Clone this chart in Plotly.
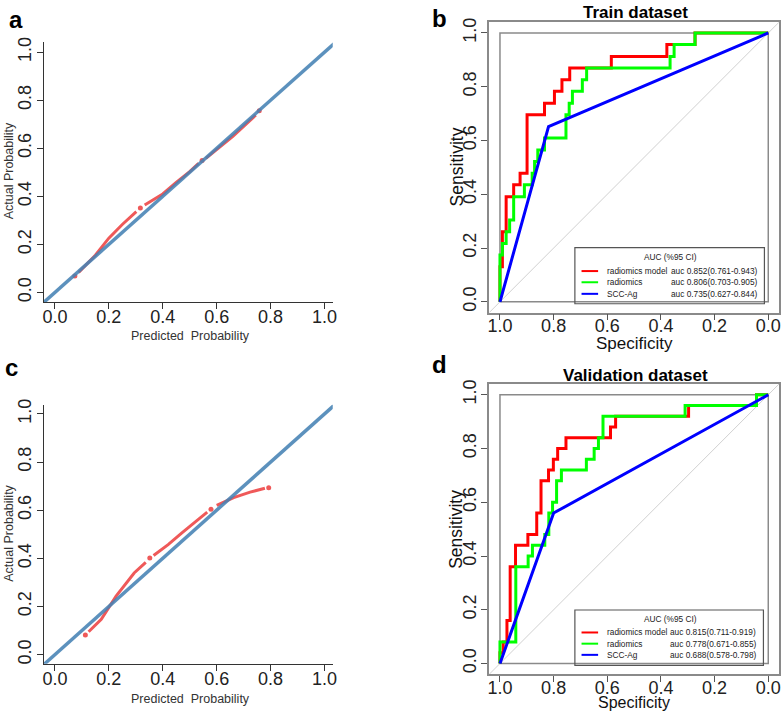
import plotly.graph_objects as go

# ---------------- data ----------------
# Panel a: calibration (train)
cal_a_pts_x = [0.074, 0.317, 0.546, 0.758]
cal_a_pts_y = [0.068, 0.352, 0.549, 0.756]
cal_a_line_x = [0.088, 0.15, 0.20, 0.25, 0.302, None, 0.333, 0.40, 0.45, 0.50, 0.533, None, 0.56, 0.60, 0.66, 0.745]
cal_a_line_y = [0.083, 0.155, 0.226, 0.283, 0.336, None, 0.364, 0.41, 0.458, 0.503, 0.537, None, 0.558, 0.594, 0.65, 0.738]

# Panel c: calibration (validation)
cal_c_pts_x = [0.113, 0.352, 0.579, 0.793]
cal_c_pts_y = [0.081, 0.401, 0.604, 0.693]
cal_c_line_x = [0.125, 0.172, 0.227, 0.294, 0.337, None, 0.366, 0.42, 0.47, 0.52, 0.565, None, 0.60, 0.663, 0.724, 0.779]
cal_c_line_y = [0.095, 0.147, 0.243, 0.339, 0.383, None, 0.412, 0.457, 0.505, 0.55, 0.592, None, 0.62, 0.652, 0.675, 0.691]

# Panel b: ROC train (specificity, sensitivity)
tr_model_spec = [1.0, 1.0, 0.991, 0.991, 0.977, 0.977, 0.949, 0.949, 0.925, 0.925, 0.899, 0.899, 0.834, 0.834,
                 0.797, 0.797, 0.769, 0.769, 0.74, 0.74, 0.585, 0.585, 0.378, 0.378, 0.273, 0.273, 0.0]
tr_model_sens = [0.0, 0.130, 0.130, 0.261, 0.261, 0.391, 0.391, 0.435, 0.435, 0.478, 0.478, 0.696, 0.696, 0.739,
                 0.739, 0.783, 0.783, 0.826, 0.826, 0.870, 0.870, 0.913, 0.913, 0.957, 0.957, 1.0, 1.0]
tr_rad_spec = [1.0, 1.0, 0.991, 0.991, 0.977, 0.977, 0.964, 0.964, 0.949, 0.949, 0.909, 0.909, 0.88, 0.88,
               0.871, 0.871, 0.859, 0.859, 0.834, 0.834, 0.754, 0.754, 0.742, 0.742, 0.73, 0.73, 0.693, 0.693,
               0.677, 0.677, 0.366, 0.366, 0.351, 0.351, 0.273, 0.273, 0.0]
tr_rad_sens = [0.0, 0.174, 0.174, 0.217, 0.217, 0.261, 0.261, 0.304, 0.304, 0.391, 0.391, 0.435, 0.435, 0.478,
               0.478, 0.522, 0.522, 0.565, 0.565, 0.609, 0.609, 0.696, 0.696, 0.739, 0.739, 0.783, 0.783, 0.826,
               0.826, 0.870, 0.870, 0.913, 0.913, 0.957, 0.957, 1.0, 1.0]
tr_scc_spec = [1.0, 0.819, 0.0]
tr_scc_sens = [0.0, 0.652, 1.0]

# Panel d: ROC validation
va_model_spec = [1.0, 1.0, 0.988, 0.988, 0.974, 0.974, 0.962, 0.962, 0.942, 0.942, 0.896, 0.896, 0.863, 0.863,
                 0.847, 0.847, 0.819, 0.819, 0.801, 0.801, 0.785, 0.785, 0.754, 0.754, 0.588, 0.588, 0.569, 0.569,
                 0.297, 0.297, 0.044, 0.044, 0.0]
va_model_sens = [0.0, 0.04, 0.04, 0.08, 0.08, 0.16, 0.16, 0.36, 0.36, 0.44, 0.44, 0.48, 0.48, 0.56,
                 0.56, 0.68, 0.68, 0.72, 0.72, 0.76, 0.76, 0.80, 0.80, 0.84, 0.84, 0.88, 0.88, 0.92,
                 0.92, 0.96, 0.96, 1.0, 1.0]
va_rad_spec = [1.0, 1.0, 0.941, 0.941, 0.895, 0.895, 0.879, 0.879, 0.833, 0.833, 0.818, 0.818, 0.804, 0.804,
               0.789, 0.789, 0.771, 0.771, 0.678, 0.678, 0.649, 0.649, 0.633, 0.633, 0.616, 0.616, 0.31, 0.31,
               0.044, 0.044, 0.0]
va_rad_sens = [0.0, 0.08, 0.08, 0.36, 0.36, 0.40, 0.40, 0.44, 0.44, 0.48, 0.48, 0.56, 0.56, 0.60,
               0.60, 0.68, 0.68, 0.72, 0.72, 0.76, 0.76, 0.80, 0.80, 0.84, 0.84, 0.92, 0.92, 0.96,
               0.96, 1.0, 1.0]
va_scc_spec = [1.0, 0.80, 0.0]
va_scc_sens = [0.0, 0.56, 1.0]

series_names = ["radiomics model", "radiomics", "SCC-Ag"]
series_colors = ["#FF0000", "#00FF00", "#0000FF"]
auc_train = ["auc 0.852(0.761-0.943)", "auc 0.806(0.703-0.905)", "auc 0.735(0.627-0.844)"]
auc_valid = ["auc 0.815(0.711-0.919)", "auc 0.778(0.671-0.855)", "auc 0.688(0.578-0.798)"]

tick_vals = [0.0, 0.2, 0.4, 0.6, 0.8, 1.0]
tick_text = ["0.0", "0.2", "0.4", "0.6", "0.8", "1.0"]
diag_ref = [-0.1, 1.1]

# ---------------- layout helpers ----------------
W, H = 784, 712
FONT = "Arial, 'Liberation Sans', sans-serif"


def px(x):
    return x / W


def py(y):
    return 1 - y / H


fig = go.Figure()

CAL_RED = "rgba(238,80,80,0.95)"
CAL_BLUE = "rgba(70,130,180,0.88)"

# Panel a
fig.add_trace(go.Scatter(x=cal_a_line_x, y=cal_a_line_y, mode="lines", line=dict(color=CAL_RED, width=3),
                         xaxis="x", yaxis="y", showlegend=False, connectgaps=False))
fig.add_trace(go.Scatter(x=cal_a_pts_x, y=cal_a_pts_y, mode="markers", marker=dict(color=CAL_RED, size=5),
                         xaxis="x", yaxis="y", showlegend=False))
fig.add_trace(go.Scatter(x=diag_ref, y=diag_ref, mode="lines", line=dict(color=CAL_BLUE, width=3.5),
                         xaxis="x", yaxis="y", showlegend=False))
# Panel c
fig.add_trace(go.Scatter(x=cal_c_line_x, y=cal_c_line_y, mode="lines", line=dict(color=CAL_RED, width=3),
                         xaxis="x3", yaxis="y3", showlegend=False, connectgaps=False))
fig.add_trace(go.Scatter(x=cal_c_pts_x, y=cal_c_pts_y, mode="markers", marker=dict(color=CAL_RED, size=5),
                         xaxis="x3", yaxis="y3", showlegend=False))
fig.add_trace(go.Scatter(x=diag_ref, y=diag_ref, mode="lines", line=dict(color=CAL_BLUE, width=3.5),
                         xaxis="x3", yaxis="y3", showlegend=False))

# ROC panels
for xa, ya, data in [
    ("x2", "y2", [(tr_model_spec, tr_model_sens), (tr_rad_spec, tr_rad_sens), (tr_scc_spec, tr_scc_sens)]),
    ("x4", "y4", [(va_model_spec, va_model_sens), (va_rad_spec, va_rad_sens), (va_scc_spec, va_scc_sens)]),
]:
    # chance diagonal
    fig.add_trace(go.Scatter(x=[1.1, -0.1], y=[-0.1, 1.1], mode="lines", line=dict(color="#d0d0d0", width=1),
                             xaxis=xa, yaxis=ya, showlegend=False))
    for (sx, sy), col in zip(data, series_colors):
        fig.add_trace(go.Scatter(x=sx, y=sy, mode="lines", line=dict(color=col, width=3),
                                 xaxis=xa, yaxis=ya, showlegend=False))

# axes
cal_x_dom = [px(42.3), px(333.3)]
roc_x_dom = [px(491), px(783)]
TICKSIZE = 18


def cal_axis(dom, rng, standoff):
    return dict(domain=dom, range=rng, tickvals=tick_vals, ticktext=tick_text, showline=True,
                linecolor="#333", linewidth=1.3, ticks="outside", ticklen=6, tickcolor="#333",
                ticklabelstandoff=standoff,
                showgrid=False, zeroline=False, tickfont=dict(family=FONT, size=TICKSIZE, color="#222"))


def roc_axis(dom, rng, standoff):
    return dict(domain=dom, range=rng, tickvals=tick_vals, ticktext=tick_text, showline=True, mirror=True,
                linecolor="#8a8a8a", linewidth=1.5, ticks="outside", ticklen=6, tickcolor="#555",
                ticklabelstandoff=standoff,
                showgrid=False, zeroline=False, tickfont=dict(family=FONT, size=TICKSIZE, color="#222"))


fig.update_layout(
    width=W, height=H, autosize=False, margin=dict(l=0, r=0, t=0, b=0),
    paper_bgcolor="white", plot_bgcolor="white",
    xaxis=dict(**cal_axis(cal_x_dom, [-0.0405, 1.0306], -8), anchor="y"),
    yaxis=dict(**cal_axis([py(299), py(36.7)], [-0.04, 1.041], -1), anchor="x", tickangle=-90),
    xaxis3=dict(**cal_axis(cal_x_dom, [-0.0405, 1.0306], -8), anchor="y3"),
    yaxis3=dict(**cal_axis([py(664.3), py(402.7)], [-0.038, 1.038], -1), anchor="x3", tickangle=-90),
    xaxis2=dict(**roc_axis(roc_x_dom, [1.04, -0.04], -10), anchor="y2"),
    yaxis2=dict(**roc_axis([py(309.6), py(16.4)], [-0.04, 1.04], -2), anchor="x2", tickangle=-90),
    xaxis4=dict(**roc_axis(roc_x_dom, [1.04, -0.04], -10), anchor="y4"),
    yaxis4=dict(**roc_axis([py(674.9), py(381.8)], [-0.04, 1.04], -2), anchor="x4", tickangle=-90),
)

shapes = []
annotations = []

# inner square in ROC panels
for xr, yr in [("x2", "y2"), ("x4", "y4")]:
    shapes.append(dict(type="rect", xref=xr, yref=yr, x0=1.0, x1=0.0, y0=0.0, y1=1.0,
                       line=dict(color="#8a8a8a", width=1.5), layer="below"))


def ann(text, x, y, size, bold=False, color="#111", angle=0, xanchor="center"):
    annotations.append(dict(text=f"<b>{text}</b>" if bold else text, x=px(x), y=py(y), xref="paper",
                            yref="paper", showarrow=False, xanchor=xanchor, yanchor="middle", textangle=angle,
                            font=dict(family=FONT, size=size, color=color)))


# panel letters
ann("a", 14, 14, 24, bold=True, color="#000")
ann("b", 441, 13, 24, bold=True, color="#000")
ann("c", 10, 365, 24, bold=True, color="#000")
ann("d", 441, 362, 24, bold=True, color="#000")

# titles
ann("Train dataset", 638, 7, 17, bold=True, color="#000")
ann("Validation dataset", 638, 373, 17, bold=True, color="#000")

# calibration axis titles
ann("Predicted  Probability", 189.7, 333.5, 12.5, color="#333")
ann("Actual Probability", 7, 166, 12.5, color="#333", angle=-90)
ann("Predicted  Probability", 189.7, 699.5, 12.5, color="#333")
ann("Actual Probability", 7, 532, 12.5, color="#333", angle=-90)

# ROC axis titles
ann("Specificity", 637, 340.5, 17, color="#111")
ann("Sensitivity", 458, 162.5, 17.5, color="#111", angle=-90)
ann("Specificity", 637, 703.5, 16, color="#111")
ann("Sensitivity", 458, 528.5, 17.5, color="#111", angle=-90)


# legends
def legend(box, title_y, entry_ys, aucs):
    x0, x1, y0, y1 = box
    shapes.append(dict(type="rect", xref="paper", yref="paper", x0=px(x0), x1=px(x1), y0=py(y1), y1=py(y0),
                       line=dict(color="#555", width=1.2), fillcolor="rgba(255,255,255,0)"))
    ann("AUC (%95 CI)", (x0 + x1) / 2 + 1, title_y, 8.3, color="#222")
    for name, col, ey, auc in zip(series_names, series_colors, entry_ys, aucs):
        shapes.append(dict(type="line", xref="paper", yref="paper", x0=px(584), x1=px(600.7), y0=py(ey),
                           y1=py(ey), line=dict(color=col, width=2)))
        ann(name, 607.5, ey, 8.3, color="#222", xanchor="left")
        ann(auc, x1 - 5.5, ey, 8.3, color="#222", xanchor="right")


legend((577.3, 768.3, 244, 300.7), 253.3, [267.7, 279.0, 290.7], auc_train)
legend((577.3, 767.3, 610, 666), 619, [632.7, 644.0, 655.3], auc_valid)

fig.update_layout(shapes=shapes, annotations=annotations)
fig.write_html("out.html", config={"displayModeBar": False},
               post_script="document.body.style.margin='0';document.body.style.overflow='hidden';")
